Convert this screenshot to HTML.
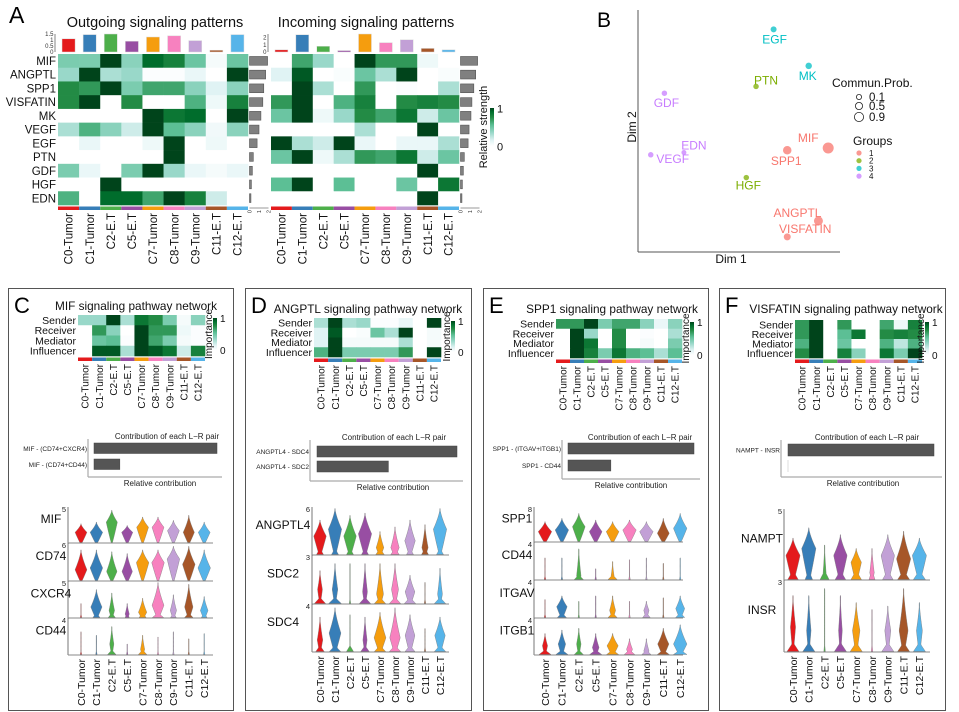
<!DOCTYPE html>
<html><head><meta charset="utf-8"><style>
html,body{margin:0;padding:0;background:#fff;}
svg{display:block;font-family:"Liberation Sans",Arial,sans-serif;}
</style></head><body>
<svg id="fig" width="959" height="712" viewBox="0 0 959 712" xmlns="http://www.w3.org/2000/svg">
<defs>
<linearGradient id="gscale" x1="0" y1="1" x2="0" y2="0">
<stop offset="0" stop-color="#ffffff"/><stop offset="0.15" stop-color="#e0f3f4"/><stop offset="0.35" stop-color="#99d8c9"/><stop offset="0.55" stop-color="#5cbf95"/><stop offset="0.75" stop-color="#238b45"/><stop offset="0.9" stop-color="#006d2c"/><stop offset="1" stop-color="#00441b"/>
</linearGradient>
</defs>
</svg>
<script>
// ---------- shared categories ----------
const clusters = ["C0-Tumor","C1-Tumor","C2-E.T","C5-E.T","C7-Tumor","C8-Tumor","C9-Tumor","C11-E.T","C12-E.T"];
const clusterColors = ["#e41a1c","#377eb8","#4daf4a","#984ea3","#f59d0e","#f781bf","#c2a0d6","#a65628","#56b4e9"];
const pathways = ["MIF","ANGPTL","SPP1","VISFATIN","MK","VEGF","EGF","PTN","GDF","HGF","EDN"];

// ---------- panel A data ----------
const outgoingMatrix = [
[.45,.45,1,.4,.9,.8,.5,.05,.5],
[.35,1,.3,.35,.02,.02,.1,0,1],
[.75,.7,1,.45,.65,.65,.4,.15,.4],
[.75,1,0,.75,0,0,.6,.08,.8],
[0,0,0,0,1,.85,.9,0,1],
[.3,.6,.4,.2,1,.55,.4,.07,.4],
[0,.1,0,0,.08,1,0,.08,0],
[0,0,0,0,0,1,0,0,0],
[.45,.1,0,.45,1,.35,.1,.05,.1],
[0,0,1,0,0,0,0,0,0],
[.6,0,.9,.9,.65,1,.8,.2,0]];
const incomingMatrix = [
[0,.65,.35,0,1,.7,.7,.08,0],
[.15,.95,0,.03,.5,.3,1,0,.03],
[0,1,.3,0,.7,0,.02,0,.3],
[.7,1,0,.6,.8,0,.75,.8,.75],
[.5,1,.08,.35,.75,.65,.85,.2,.5],
[0,0,0,0,.3,0,0,1,0],
[1,.3,.2,1,.1,0,.1,.1,.3],
[.5,1,.08,.3,.7,.65,.85,.2,.5],
[0,0,0,0,0,0,0,1,0],
[.55,1,0,.55,0,0,.5,0,.85],
[0,0,0,0,0,0,0,1,0]];
const outgoingTop = [1.1,1.45,1.5,0.9,1.25,1.35,0.95,0.15,1.45];
const incomingTop = [0.3,2.4,0.8,0.2,2.5,1.3,1.7,0.5,0.3];
const outgoingRight = [1.9,1.7,1.5,1.4,1.2,1.0,0.8,0.4,0.3,0.2,0.15];
const incomingRight = [1.8,1.6,1.4,1.2,1.1,0.9,0.8,0.4,0.3,0.2,0.15];
const outTopTicks = ["1.5","1","0.5","0"];
const inTopTicks = ["2","1","0"];

// ---------- panel B data ----------
const bNames = ["EGF","MK","PTN","GDF","EDN","VEGF","SPP1","MIF","HGF","ANGPTL","VISFATIN"];
const bDim1 = [68,86,59,12,22,5,75,96,54,91,75];
const bDim2 = [95,79,70,67,41,40,42,43,30,11,4];
const bGroup = [3,3,2,4,4,4,1,1,2,1,1];
const bProb = [0.2,0.25,0.15,0.15,0.1,0.15,0.45,0.7,0.15,0.5,0.3];
const groupColors = ["#f8766d","#7cae00","#00bfc4","#c77cff"];

// ---------- panels C-F data ----------
const roles = ["Sender","Receiver","Mediator","Influencer"];
const heatC = [[.35,.35,1,.3,.85,.75,.45,.05,.4],[0,.7,.4,0,1,.7,.7,.08,.02],[0,.5,.55,.02,1,.65,.45,.05,.02],[0,.95,.95,.3,1,.95,.85,.2,.8]];
const heatD = [[.3,1,.3,.35,.02,.02,.1,0,1],[.15,.95,0,.03,.5,.3,1,0,.05],[.15,1,.05,.05,.05,.05,.3,0,.05],[.6,1,.45,.45,.45,.45,.7,0,1]];
const heatE = [[.7,.7,1,.45,.65,.65,.4,.1,.4],[0,1,.35,0,.75,0,.02,0,.3],[0,1,.85,0,.75,0,.05,0,.45],[0,1,.8,.45,.85,.6,.55,.3,.55]];
const heatF = [[.7,1,0,.7,0,0,.65,.08,.8],[.7,1,0,.55,.85,0,.75,.8,.75],[.6,1,0,.5,0,0,.6,.25,.6],[.75,1,0,.8,.4,0,.85,.45,1]];

const pairsC = ["MIF - (CD74+CXCR4)","MIF - (CD74+CD44)"]; const contribC = [1,0.21];
const pairsD = ["ANGPTL4 - SDC4","ANGPTL4 - SDC2"]; const contribD = [1,0.51];
const pairsE = ["SPP1 - (ITGAV+ITGB1)","SPP1 - CD44"]; const contribE = [1,0.34];
const pairsF = ["NAMPT - INSR"]; const contribF = [1];

const genesC = ["MIF","CD74","CXCR4","CD44"]; const genesCmax = ["5","6","5","4"];
const genesD = ["ANGPTL4","SDC2","SDC4"]; const genesDmax = ["6","3","4"];
const genesE = ["SPP1","CD44","ITGAV","ITGB1"]; const genesEmax = ["8","4","4","4"];
const genesF = ["NAMPT","INSR"]; const genesFmax = ["5","3"];
// violin params per gene: top, center, width, base (fractions)
const vTopC = [[.55,.6,.95,.5,.75,.75,.65,.8,.6],[.85,.85,.8,.75,.85,.85,.95,.95,.85],[.4,.8,.7,.4,.55,1,.65,.95,.6],[.65,.55,.8,.3,.55,.5,.65,.45,.6]];
const vCenC = [[.3,.3,.6,.3,.45,.45,.35,.3,.3],[.3,.35,.25,.25,.5,.5,.6,.45,.35],[.2,.3,.2,.1,.15,.35,.2,.3,.2],[.1,.1,.3,.1,.15,.1,.1,.1,.1]];
const vWidC = [[.85,.9,.8,.8,.85,.85,.85,.8,.85],[.85,.9,.75,.75,.9,.9,.9,.9,.9],[0,.8,.4,.3,.6,.85,.45,.6,.55],[0,0,.3,0,.3,0,0,0,0]];
const vBasC = [[0,0,0,0,0,0,0,0,0],[0,0,0,0,0,0,0,0,0],[.1,.5,.5,.3,.5,.8,.4,.6,.4],[.1,.1,.6,.1,.6,.1,.1,.1,.1]];
const vTopD = [[.75,1,.85,.9,.5,.6,.75,.65,1],[.7,.85,.85,.85,.85,.85,.6,.45,.75],[.75,.95,.8,.75,.85,.95,.8,.5,.75]];
const vCenD = [[.4,.55,.4,.45,.15,.15,.3,.15,.55],[.3,.3,.1,.25,.2,.3,.25,.1,.2],[.25,.4,.2,.25,.3,.3,.35,.05,.35]];
const vWidD = [[.9,.95,.9,.95,.55,.6,.75,.45,.95],[.35,.4,0,.35,.5,.5,.7,0,.35],[.4,.85,0,.3,.85,.75,.7,0,.75]];
const vBasD = [[.5,.5,.5,.5,.6,.6,.5,.5,.5],[.8,.9,.1,.8,.8,.8,.8,.1,.8],[.6,.8,.5,.6,.8,.8,.7,.1,.8]];
const vTopE = [[.6,.7,.85,.65,.6,.65,.6,.7,.85],[.6,.6,.85,.3,.5,.55,.6,.45,.6],[.5,.6,.45,.6,.6,.45,.45,.55,.6],[.6,.7,.75,.6,.6,.45,.45,.75,.85]];
const vCenE = [[.3,.35,.45,.3,.3,.35,.3,.25,.4],[.1,.1,.1,.1,.1,.1,.1,.1,.1],[.1,.3,.1,.1,.2,.1,.2,.1,.25],[.25,.3,.3,.2,.25,.15,.1,.3,.3]];
const vWidE = [[.9,.9,.85,.85,.85,.9,.9,.8,.9],[0,0,.3,0,.2,0,0,0,0],[0,.7,0,0,.4,0,.35,0,.6],[.35,.5,.3,.45,.75,.4,.35,.75,.9]];
const vBasE = [[0,0,0,0,0,0,0,0,0],[.1,.1,.6,.1,.6,.1,.1,.1,.1],[.1,.6,.1,.1,.6,.1,.5,.1,.6],[.8,.8,.6,.8,.8,.7,.6,.8,.9]];
const vTopF = [[.6,.75,.5,.65,.45,.45,.65,.7,.6],[.8,.8,.9,.8,.7,.6,.65,.9,.7]];
const vCenF = [[.35,.45,.1,.35,.25,.1,.35,.3,.35],[.35,.3,.1,.3,.3,.1,.3,.3,.3]];
const vWidF = [[.95,.95,.2,.9,.7,.3,.9,.95,.95],[.35,.3,0,.25,.5,0,.4,.6,.4]];
const vBasF = [[.7,.5,.6,.7,.7,.4,.7,.8,.8],[.8,.8,.1,.8,.8,.1,.8,.8,.8]];

// ---------- helpers ----------
const svg = document.getElementById('fig');
const NS = "http://www.w3.org/2000/svg";
function mk(tag, attrs, parent, txt){
  const e = document.createElementNS(NS, tag);
  for (const k in attrs) e.setAttribute(k, attrs[k]);
  if (txt !== undefined) e.textContent = txt;
  (parent||svg).appendChild(e);
  return e;
}
const stops = [[0,[255,255,255]],[.15,[224,243,244]],[.35,[153,216,201]],[.55,[92,191,149]],[.75,[35,139,69]],[.9,[0,109,44]],[1,[0,68,27]]];
function heatColor(v){
  v = Math.max(0, Math.min(1, v));
  for (let i=1;i<stops.length;i++){
    if (v <= stops[i][0]){
      const a=stops[i-1], b=stops[i], t=(v-a[0])/(b[0]-a[0]);
      const c=a[1].map((x,j)=>Math.round(x+(b[1][j]-x)*t));
      return `rgb(${c[0]},${c[1]},${c[2]})`;
    }
  }
  return "rgb(0,68,27)";
}
function colLabels(g, x0, cw, y, fs){
  clusters.forEach((c,i)=>{
    const t = mk('text',{transform:`translate(${x0+cw*(i+0.5)+fs*0.36},${y}) rotate(-90)`,'text-anchor':'end','font-size':fs,fill:'#111'},g,c);
    
    
  });
}
function heatmap(g, matrix, rowNames, x0, y0, w, h, rfs, showRows){
  const cw = w/clusters.length, rh = h/rowNames.length;
  matrix.forEach((row,r)=>{
    row.forEach((v,c)=>{
      const rc = mk('rect',{x:x0+c*cw,y:y0+r*rh,width:cw+0.3,height:rh+0.3,fill:heatColor(v)},g);
      
      
    });
    if (showRows){
      const t = mk('text',{x:x0-2,y:y0+(r+0.5)*rh+rfs*0.36,'text-anchor':'end','font-size':rfs,fill:'#111'},g,rowNames[r]);
      
      
    }
  });
  clusters.forEach((c,i)=>{
    const s = mk('rect',{x:x0+i*cw,y:y0+h+1.5,width:cw,height:3.5,fill:clusterColors[i]},g);
    
    
  });
}
function colorLegend(g, x, y1, y2, fs, title, titleX){
  const r = mk('rect',{x:x,y:y1,width:4,height:y2-y1,fill:'url(#gscale)'},g);
  
  
  mk('text',{x:x+7,y:y1+fs*0.4,'font-size':fs,fill:'#111'},g,'1');
  mk('text',{x:x+7,y:y2+fs*0.4,'font-size':fs,fill:'#111'},g,'0');
  const t = mk('text',{transform:`translate(${titleX},${(y1+y2)/2}) rotate(-90)`,'text-anchor':'middle','font-size':fs,fill:'#111'},g,title);
  
  
}

// ---------- Panel A ----------
const gA = mk('g',{});  
mk('text',{x:9,y:23,'font-size':23,fill:'#000'},gA,'A');
function panelA(matrix, topVals, topMax, topTicks, rightVals, x0, w, title, titleX, axX, showRows){
  const g = mk('g',{},gA);
  
  
  const y0=54, h=151, cw=w/9, rh=h/11;
  mk('text',{x:titleX,y:27,'text-anchor':'middle','font-size':14.5,fill:'#111'},g,title);
  heatmap(g, matrix, pathways, x0, y0, w, h, 11.5, showRows);
  colLabels(g, x0, cw, 213, 11.5);
  const base=52, ph=18;
  const ys = v => base - v/topMax*ph;
  topVals.forEach((v,i)=>{
    const b = mk('rect',{x:x0+cw*i+cw*0.19,y:ys(v),width:cw*0.62,height:base-ys(v),fill:clusterColors[i],stroke:'#ddd','stroke-width':0.5},g);
    
    
  });
  mk('line',{x1:axX,y1:ys(topMax),x2:axX,y2:base,stroke:'#333','stroke-width':0.6},g);
  topTicks.forEach((t)=>{
    const v = parseFloat(t);
    mk('text',{x:axX-1.5,y:ys(v)+2,'text-anchor':'end','font-size':6,fill:'#333'},g,t);
  });
  const rx = x0+w+1.5, rs = v => v/2*19;
  rightVals.forEach((v,i)=>{
    const b = mk('rect',{x:rx,y:y0+i*rh+rh*0.18,width:rs(v),height:rh*0.64,fill:'#808080',stroke:'#555','stroke-width':0.6},g);
    
    
  });
  mk('line',{x1:rx,y1:208,x2:rx+19,y2:208,stroke:'#333','stroke-width':0.6},g);
  ["0","1","2"].forEach((t,i)=>{
    mk('text',{transform:`translate(${rx+i*9.5+2},${210}) rotate(-90)`,'text-anchor':'end','font-size':5.5,fill:'#333'},g,t);
  });
}
panelA(outgoingMatrix, outgoingTop, 1.5, outTopTicks, outgoingRight, 58, 190, 'Outgoing signaling patterns', 155, 55, true);
panelA(incomingMatrix, incomingTop, 2.5, inTopTicks, incomingRight, 271, 188, 'Incoming signaling patterns', 366, 268, false);
colorLegend(gA, 490, 108, 146, 11, 'Relative strength', 487);

// ---------- Panel B ----------
const gB = mk('g',{});  
mk('text',{x:597,y:27,'font-size':21,fill:'#000'},gB,'B');
const bx = v => 641 + v/100*195;
const by = v => 246 - v/100*228;
mk('line',{x1:638,y1:10,x2:638,y2:252,stroke:'#555','stroke-width':1},gB);
mk('line',{x1:638,y1:252,x2:840,y2:252,stroke:'#555','stroke-width':1},gB);
mk('text',{x:731,y:263,'text-anchor':'middle','font-size':12,fill:'#111'},gB,'Dim 1');
mk('text',{transform:'translate(636,127) rotate(-90)','text-anchor':'middle','font-size':12,fill:'#111'},gB,'Dim 2');
const labelOff = {EGF:[1,10],MK:[-1,10],PTN:[10,-6],GDF:[2,10],EDN:[10,-7],VEGF:[22,4],SPP1:[-1,11],MIF:[-20,-10],HGF:[2,8],ANGPTL:[-21,-8],VISFATIN:[18,-8]};
bNames.forEach((n,i)=>{
  const col = groupColors[bGroup[i]-1];
  const cx = bx(bDim1[i]), cy = by(bDim2[i]);
  const p = mk('circle',{cx:cx,cy:cy,r:2+bProb[i]*5,fill:col,'fill-opacity':0.75},gB);
  
  
  const o = labelOff[n];
  const t = mk('text',{x:cx+o[0],y:cy+o[1]+4,'text-anchor':'middle','font-size':12,fill:col},gB,n);
  
  
});
mk('text',{x:832,y:87,'font-size':12,fill:'#111'},gB,'Commun.Prob.');
[["0.1",2.6,97],["0.5",3.6,106],["0.9",4.6,117]].forEach(a=>{
  mk('circle',{cx:859,cy:a[2],r:a[1],fill:'none',stroke:'#222','stroke-width':0.8},gB);
  mk('text',{x:869,y:a[2]+4,'font-size':11.5,fill:'#111'},gB,a[0]);
});
mk('text',{x:853,y:145,'font-size':12,fill:'#111'},gB,'Groups');
["1","2","3","4"].forEach((g,i)=>{
  const y=153+i*7.7;
  mk('circle',{cx:859,cy:y,r:2.6,fill:groupColors[i],'fill-opacity':0.75},gB);
  mk('text',{x:869,y:y+3,'font-size':8,fill:'#111'},gB,g);
});

// ---------- Panels C-F ----------
function violinPath(cx, yb, rh, hw, t, c, w, b){
  const pts=[]; const N=40;
  for(let k=0;k<=N;k++){
    const f = t*k/N;
    let tri = 0;
    if (w>0){
      if (f<=c) tri = w*Math.pow(Math.max(0,1-(c-f)/(c+0.06)),0.9);
      else tri = w*Math.pow(Math.max(0,1-(f-c)/(t-c+0.001)),1.4);
    }
    const bs = b*Math.max(0,1-f/0.13);
    let v = Math.max(tri, bs, 0.035);
    if (k===N) v=0.02;
    pts.push([hw*v, yb - f*rh]);
  }
  let d = `M${cx-pts[0][0]},${pts[0][1]}`;
  pts.forEach(p=>{ d+=`L${cx-p[0]},${p[1]}`; });
  for(let k=pts.length-1;k>=0;k--){ d+=`L${cx+pts[k][0]},${pts[k][1]}`; }
  return d+'Z';
}
function panel(cfg){
  const g = mk('g',{});  
  const bx = cfg.box;
  const box = mk('rect',{x:bx[0]+0.5,y:bx[1]+0.5,width:bx[2],height:bx[3],fill:'none',stroke:'#555','stroke-width':1},g);
   
  mk('text',{x:bx[0]+6,y:bx[1]+25,'font-size':22,fill:'#000'},g,cfg.letter);
  mk('text',{x:cfg.titleX,y:cfg.titleY,'text-anchor':'middle','font-size':11.8,fill:'#111'},g,cfg.title);
  const hm = cfg.heat;
  heatmap(g, cfg.heatData, roles, hm[0], hm[1], hm[2], hm[3], 10.5, true);
  colLabels(g, hm[0], hm[2]/9, hm[1]+hm[3]+8, 10);
  colorLegend(g, cfg.leg[0], cfg.leg[1], cfg.leg[2], 10, 'Importance', cfg.leg[0]-1);
  const ct = cfg.contrib;
  const cg = mk('g',{},g);  
  mk('line',{x1:ct.ax,y1:ct.top,x2:ct.ax,y2:ct.bottom,stroke:'#aaa','stroke-width':1.2},cg);
  mk('line',{x1:ct.ax,y1:ct.bottom,x2:ct.right,y2:ct.bottom,stroke:'#aaa','stroke-width':1.2},cg);
  mk('text',{x:ct.titleX,y:ct.top,'text-anchor':'middle','font-size':8,fill:'#222'},cg,'Contribution of each L\u2212R pair');
  mk('text',{x:ct.relX,y:ct.bottom+9,'text-anchor':'middle','font-size':8,fill:'#222'},cg,'Relative contribution');
  cfg.pairs.forEach((p,i)=>{
    const y = ct.barY0 + i*ct.barStep;
    const r = mk('rect',{x:ct.barX,y:y,width:cfg.contribVals[i]*ct.barLen,height:ct.barH,fill:'#555',stroke:'#444','stroke-width':0.5},cg);
    
    
    mk('text',{x:ct.ax-1,y:y+ct.barH/2+2.5,'text-anchor':'end','font-size':6.5,fill:'#222'},cg,p);
  });
  if (cfg.pairs.length===1) mk('line',{x1:ct.barX,y1:ct.barY0+ct.barStep,x2:ct.barX,y2:ct.barY0+ct.barStep+ct.barH,stroke:'#ddd','stroke-width':1},cg);
  const vl = cfg.vio;
  const vg = mk('g',{},g);  
  const tops = vl.rows.concat([vl.bottom]);
  cfg.genes.forEach((gene,r)=>{
    const y1 = tops[r], y2 = tops[r+1], rh = y2-y1-2;
    mk('line',{x1:vl.ax,y1:y1,x2:vl.ax,y2:y2,stroke:'#555','stroke-width':0.8},vg);
    mk('line',{x1:vl.ax,y1:y2,x2:vl.right,y2:y2,stroke:'#888','stroke-width':1},vg);
    mk('text',{x:vl.ax-2,y:y1+5,'text-anchor':'end','font-size':7.5,fill:'#222'},vg,cfg.gmax[r]);
    const lt = mk('text',{x:vl.labelX,y:(y1+y2)/2-2,'text-anchor':'middle','font-size':12,fill:'#111'},vg,gene);
    
    
    clusters.forEach((c,i)=>{
      const cx = vl.x0 + i*vl.step;
      const p = mk('path',{d:violinPath(cx, y2-0.5, rh, vl.hw, cfg.vTop[r][i], cfg.vCen[r][i], cfg.vWid[r][i], cfg.vBas[r][i]),fill:clusterColors[i],stroke:'#777','stroke-width':0.4},vg);
      
      
    });
  });
  colLabels(g, vl.x0 - vl.step/2, vl.step, vl.bottom+4, 10.5);
}
panel({name:'panel-c',letter:'C',box:[8,288,225,422],title:'MIF signaling pathway network',titleX:136,titleY:310,
  heat:[78,315,127,41],heatData:heatC,leg:[213,318,350],
  contrib:{ax:88,top:439,bottom:477,right:222,titleX:167,relX:160,barX:94,barLen:123,barY0:443,barStep:16,barH:10.5},
  pairs:pairsC,contribVals:contribC,
  vio:{ax:68,rows:[507,543,581,618],bottom:655,right:213,x0:81,step:15.4,hw:7,labelX:51},
  genes:genesC,gmax:genesCmax,vTop:vTopC,vCen:vCenC,vWid:vWidC,vBas:vBasC});
panel({name:'panel-d',letter:'D',box:[245,288,226,422],title:'ANGPTL signaling pathway network',titleX:368,titleY:313,
  heat:[314,318,127,39],heatData:heatD,leg:[451,321,352],
  contrib:{ax:310,top:440,bottom:481,right:463,titleX:394,relX:393,barX:317,barLen:140,barY0:446,barStep:15,barH:11},
  pairs:pairsD,contribVals:contribD,
  vio:{ax:312,rows:[507,555,604],bottom:652,right:449,x0:320,step:15,hw:7,labelX:283},
  genes:genesD,gmax:genesDmax,vTop:vTopD,vCen:vCenD,vWid:vWidD,vBas:vBasD});
panel({name:'panel-e',letter:'E',box:[483,288,225,422],title:'SPP1 signaling pathway network',titleX:612,titleY:313,
  heat:[556,319,126,39],heatData:heatE,leg:[690,322,355],
  contrib:{ax:562,top:440,bottom:479,right:700,titleX:640,relX:631,barX:568,barLen:126,barY0:443,barStep:17,barH:11},
  pairs:pairsE,contribVals:contribE,
  vio:{ax:534,rows:[507,542,580,618],bottom:655,right:683,x0:545,step:16.9,hw:7.5,labelX:517},
  genes:genesE,gmax:genesEmax,vTop:vTopE,vCen:vCenE,vWid:vWidE,vBas:vBasE});
panel({name:'panel-f',letter:'F',box:[719,288,226,422],title:'VISFATIN signaling pathway network',titleX:846,titleY:313,
  heat:[795,320,127,38],heatData:heatF,leg:[925,322,355],
  contrib:{ax:781,top:440,bottom:477,right:942,titleX:867,relX:863,barX:788,barLen:146,barY0:444,barStep:16,barH:12},
  pairs:pairsF,contribVals:contribF,
  vio:{ax:784,rows:[509,580],bottom:652,right:930,x0:793,step:15.8,hw:7.5,labelX:762},
  genes:genesF,gmax:genesFmax,vTop:vTopF,vCen:vCenF,vWid:vWidF,vBas:vBasF});
</script>
</body></html>
